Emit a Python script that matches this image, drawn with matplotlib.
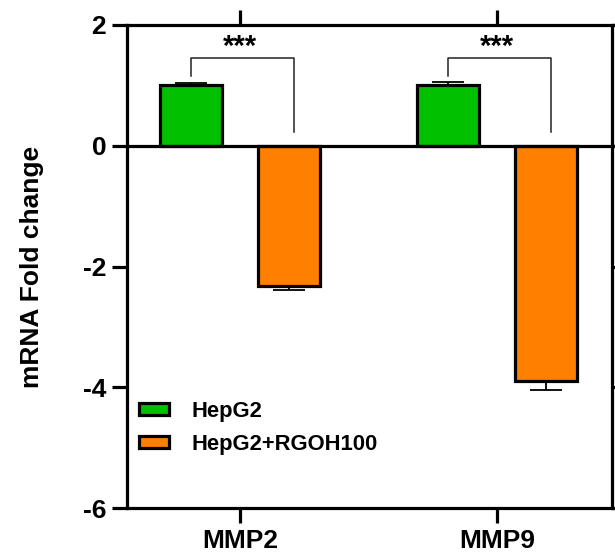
import numpy as np
import matplotlib as mpl
import matplotlib.pyplot as plt
from matplotlib.patches import Patch

mpl.rcParams.update({
    "font.family": "sans-serif",
    "font.sans-serif": ["Liberation Sans", "Arial", "DejaVu Sans"],
    "font.weight": "bold",
})

genes = ["MMP2", "MMP9"]
groups = ["HepG2", "HepG2+RGOH100"]
hepg2 = [1.0, 1.0]
hepg2_err = [0.04, 0.06]
rgoh = [-2.33, -3.89]
rgoh_err = [0.06, 0.15]
sig = ["***", "***"]

C_GREEN = "#00C000"
C_ORANGE = "#FF8000"
LW = 2.3

fig = plt.figure(figsize=(6.15, 5.57), dpi=100)
ax = fig.add_axes([127 / 615, 1 - 508 / 557, (612 - 127) / 615, (508 - 25) / 557])

x = np.arange(len(genes))
off, w = 0.19, 0.24
ax.bar(x - off, hepg2, w, color=C_GREEN, edgecolor="black", linewidth=LW, zorder=3)
ax.bar(x + off, rgoh, w, color=C_ORANGE, edgecolor="black", linewidth=LW, zorder=3)
ax.errorbar(x - off, hepg2, yerr=[np.zeros(2), hepg2_err], fmt="none",
            ecolor="black", elinewidth=1.3, capsize=11.5, capthick=1.3, zorder=2)
ax.errorbar(x + off, rgoh, yerr=[rgoh_err, np.zeros(2)], fmt="none",
            ecolor="black", elinewidth=1.3, capsize=11.5, capthick=1.3, zorder=2)

# significance brackets
for i, s in enumerate(sig):
    xl, xr = x[i] - off, x[i] + off + 0.02
    ax.plot([xl, xl, xr, xr], [1.16, 1.46, 1.46, 0.22], color="#222222", lw=1.1, zorder=4)
    ax.text(x[i], 1.40, s, ha="center", va="bottom", fontsize=21, fontweight="bold")

xl0, xl1 = (127 - 240) / 257, (612 - 240) / 257
ax.set_xlim(xl0, xl1)
ax.set_ylim(-6, 2)

# zero line and top line run past the right spine to the image edge
ext = xl1 + 6 / 257
ax.plot([xl0, ext], [0, 0], color="black", lw=LW, clip_on=False, zorder=5)
ax.plot([xl0, ext], [2, 2], color="black", lw=LW, clip_on=False, zorder=5)
ax.spines["top"].set_visible(False)
for sp in ["left", "bottom", "right"]:
    ax.spines[sp].set_linewidth(LW)

ax.set_yticks([-6, -4, -2, 0, 2])
ax.set_yticklabels(["-6", "-4", "-2", "0", "2"])
ax.set_xticks(x)
ax.set_xticklabels(genes)
ax.tick_params(axis="both", length=11, width=LW, labelsize=19, direction="out", pad=4)
ax.tick_params(axis="x", top=True, labeltop=False)
ax.tick_params(axis="y", right=True, labelright=False)
for lab in ax.get_xticklabels() + ax.get_yticklabels():
    lab.set_fontweight("bold")

ax.set_ylabel("mRNA Fold change", fontsize=19, fontweight="bold", labelpad=28)

handles = [Patch(facecolor=C_GREEN, edgecolor="black", linewidth=LW),
           Patch(facecolor=C_ORANGE, edgecolor="black", linewidth=LW)]
leg = ax.legend(handles, groups, loc="upper left", bbox_to_anchor=(-0.017, 0.263),
                frameon=False, prop={"size": 15.8, "weight": "bold"},
                handlelength=1.4, handleheight=0.5, handletextpad=1.0, labelspacing=0.55)

fig.savefig("out.png", dpi=100)
